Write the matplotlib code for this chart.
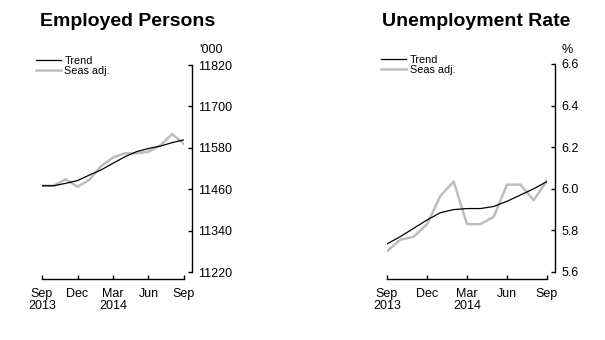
import matplotlib
matplotlib.use('Agg')
import matplotlib.pyplot as plt

plt.rcParams['font.family'] = ['Liberation Sans', 'DejaVu Sans']

# monthly, Sep 2013 to Sep 2014
months = list(range(13))
tick_pos = [0, 3, 6, 9, 12]
tick_labels = ['Sep\n2013', 'Dec', 'Mar\n2014', 'Jun', 'Sep']

emp_trend = [11470, 11470, 11477, 11485, 11501, 11516, 11535, 11554, 11569, 11578, 11585, 11595, 11603]
emp_sa = [11470, 11470, 11489, 11467, 11487, 11527, 11552, 11564, 11564, 11569, 11587, 11620, 11591]
emp_ticks = [11220, 11340, 11460, 11580, 11700, 11820]

ue_trend = [5.735, 5.77, 5.81, 5.85, 5.885, 5.90, 5.905, 5.905, 5.915, 5.94, 5.97, 6.00, 6.035]
ue_sa = [5.70, 5.755, 5.77, 5.83, 5.965, 6.035, 5.83, 5.83, 5.865, 6.02, 6.02, 5.945, 6.04]
ue_ticks = [5.6, 5.8, 6.0, 6.2, 6.4, 6.6]
ue_tick_labels = ['5.6', '5.8', '6.0', '6.2', '6.4', '6.6']

W, H = 605, 340
fig = plt.figure(figsize=(W / 100, H / 100), dpi=100)


def panel(x0, x1, y0, y1, trend, sa, yticks, ylabels, unit, title, title_x, unit_x, leg_x):
    ax = fig.add_axes([x0 / W, 1 - y1 / H, (x1 - x0) / W, (y1 - y0) / H])
    ax.plot(months, trend, color='black', lw=0.9, label='Trend', zorder=3)
    ax.plot(months, sa, color='#bdbdbd', lw=1.8, label='Seas adj.', zorder=2)
    ax.set_xlim(0, 12)
    ax.set_ylim(yticks[0], yticks[-1])
    for s in ['top', 'left']:
        ax.spines[s].set_visible(False)
    ax.spines['right'].set_position(('outward', 5.8))
    ax.spines['bottom'].set_position(('outward', 5.0))
    ax.spines['right'].set_linewidth(1.0)
    ax.spines['bottom'].set_linewidth(1.0)
    ax.yaxis.tick_right()
    ax.set_yticks(yticks)
    ax.set_yticklabels(ylabels)
    ax.set_xticks(tick_pos)
    ax.set_xticklabels(tick_labels, linespacing=0.95)
    ax.tick_params(axis='y', direction='in', length=3, width=1, pad=4.5, labelsize=9)
    ax.tick_params(axis='x', direction='in', length=3, width=1, pad=6.5, labelsize=9)
    ax.legend(loc='upper left', bbox_to_anchor=(leg_x, 1.045), frameon=False,
              fontsize=7.8, handlelength=2.3, handletextpad=0.3, labelspacing=0.0,
              borderaxespad=0, borderpad=0)
    fig.text(title_x / W, 1 - 22 / H, title, ha='center', va='center',
             fontsize=14, fontweight='bold')
    fig.text(unit_x / W, 1 - 50 / H, unit, ha='left', va='center', fontsize=9)
    return ax


panel(42, 184, 65, 272, emp_trend, emp_sa,
      emp_ticks, [str(v) for v in emp_ticks], "'000", 'Employed Persons', 128, 199, -0.04)
panel(387, 547, 64, 272, ue_trend, ue_sa,
      ue_ticks, ue_tick_labels, '%', 'Unemployment Rate', 476, 561, -0.035)

fig.savefig('out.png', dpi=100)
